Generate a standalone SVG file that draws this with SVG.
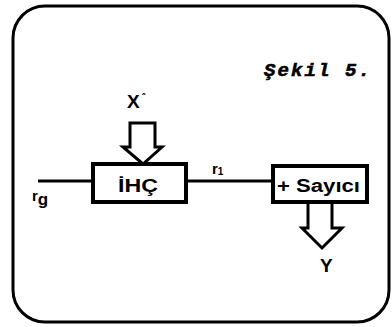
<svg xmlns="http://www.w3.org/2000/svg" width="392" height="327" viewBox="0 0 392 327">
<style>
.ln{fill:none;stroke:#000;stroke-width:3}
.bx{fill:#fff;stroke:#000;stroke-width:4}
.ar{fill:#fff;stroke:#000;stroke-width:3;stroke-linejoin:miter}
.t{font-family:"Liberation Sans",Arial,sans-serif;font-weight:bold;fill:#000}
.cap{font-family:"Liberation Mono","Courier New",monospace;font-weight:bold;font-style:italic;fill:#000;stroke:#000;stroke-width:0.6}
</style>
<rect x="0" y="0" width="392" height="327" fill="#fff"/>
<rect x="13" y="6" width="376" height="316" rx="32" ry="32" class="ln" stroke-width="2.5"/>
<text class="cap" x="264" y="76" font-size="19" textLength="106" lengthAdjust="spacing">Şekil 5.</text>
<g id="connectors">
<line x1="38" y1="181" x2="93" y2="181" class="ln"/>
<line x1="186" y1="181" x2="273" y2="181" class="ln"/>
<polygon id="arrow-x" class="ar" points="130,123 155,123 155,147 162,147 143,164 123,147 130,147"/>
<polygon id="arrow-y" class="ar" points="308,202 332,202 332,228 342,228 322,248 302,228 308,228"/>
</g>
<g id="ihc">
<rect x="93" y="164" width="93" height="38" class="bx"/>
<text class="t" x="118" y="192" font-size="18" textLength="40" lengthAdjust="spacingAndGlyphs">İHÇ</text>
</g>
<g id="sayici">
<rect x="273" y="166" width="94" height="36" class="bx"/>
<text class="t" x="277" y="192" font-size="18" textLength="83" lengthAdjust="spacingAndGlyphs">+ Sayıcı</text>
</g>
<text class="t" x="127" y="108" font-size="19">X</text>
<text class="t" x="142" y="101" font-size="10">ˆ</text>
<text class="t" x="32" y="201" font-size="15">r<tspan font-size="17" dy="4">g</tspan></text>
<text class="t" x="212" y="174" font-size="15">r<tspan font-size="10" dy="1">1</tspan></text>
<text class="t" x="320" y="272" font-size="19">Y</text>
</svg>
